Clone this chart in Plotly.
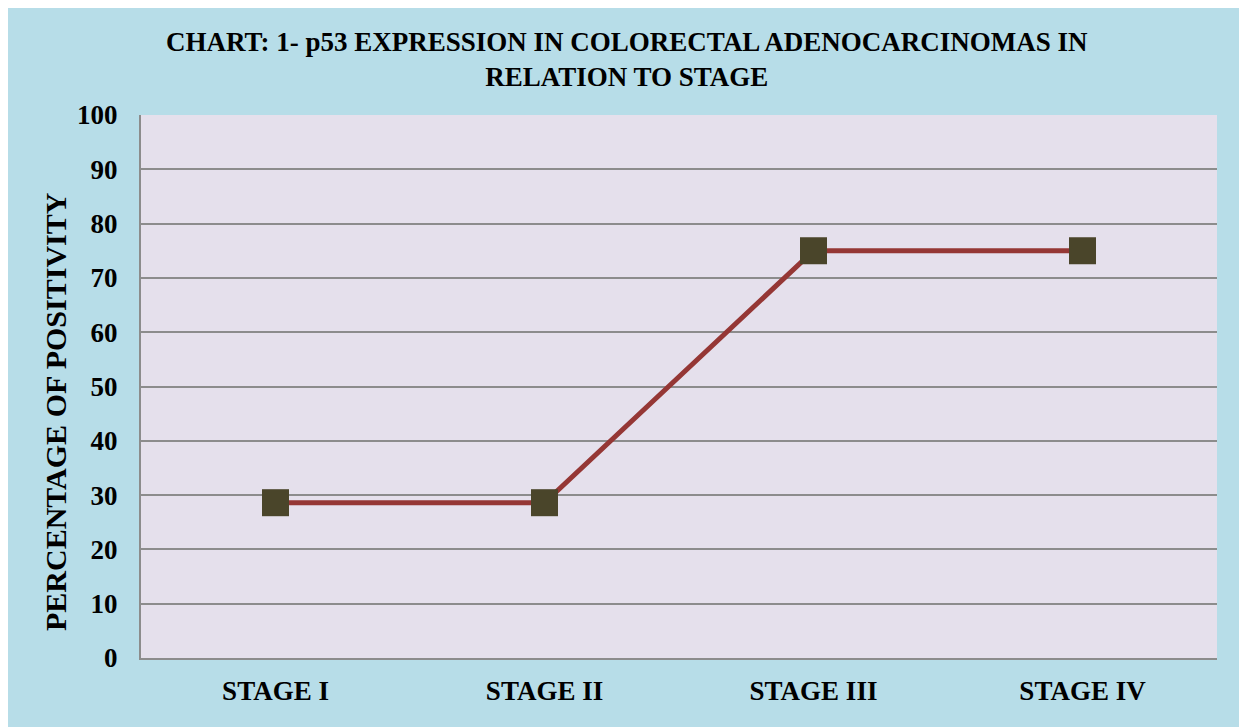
import plotly.graph_objects as go

categories = ["STAGE I", "STAGE II", "STAGE III", "STAGE IV"]
positivity = [28.6, 28.6, 75.0, 75.0]
y_ticks = [0, 10, 20, 30, 40, 50, 60, 70, 80, 90, 100]

# page offset (body margin) of the rendered html
OFF = 8
W, H = 1247 - OFF, 727 - OFF
L, R, T, B = 141, 1217, 115, 658
PW, PH = R - L, B - T

def px(x):
    return (x - L) / PW

def py(y):
    return (B - y) / PH

FONT = "Liberation Serif, Times New Roman, serif"
BG = "#b7dde8"
PLOT_BG = "#e5e0ec"
GRID = "#8c8c8c"

fig = go.Figure()
fig.add_trace(go.Scatter(
    x=categories, y=positivity, mode="lines+markers",
    line=dict(color="#953735", width=5),
    marker=dict(symbol="square", size=27, color="#4a452a", line=dict(width=0)),
    showlegend=False, cliponaxis=False,
))

shapes = [
    dict(type="rect", xref="paper", yref="paper", x0=px(6), x1=px(1260), y0=py(7), y1=py(740),
         fillcolor=BG, line=dict(width=0), layer="below"),
    dict(type="line", xref="paper", yref="paper", x0=px(6), x1=px(1260), y0=py(7), y1=py(7),
         line=dict(color="#8c8c8c", width=2), layer="below"),
    dict(type="line", xref="paper", yref="paper", x0=px(6), x1=px(6), y0=py(7), y1=py(740),
         line=dict(color="#8c8c8c", width=2), layer="below"),
    dict(type="rect", xref="paper", yref="paper", x0=0, x1=1, y0=0, y1=1,
         fillcolor=PLOT_BG, line=dict(width=0), layer="below"),
]

annotations = [
    dict(text="<b>CHART: 1- p53 EXPRESSION IN COLORECTAL ADENOCARCINOMAS IN<br>RELATION TO STAGE</b>",
         xref="paper", yref="paper", x=px(627), y=py(59), xanchor="center", yanchor="middle",
         showarrow=False, font=dict(family=FONT, size=27, color="black")),
    dict(text="<b>PERCENTAGE OF POSITIVITY</b>", textangle=-90,
         xref="paper", yref="paper", x=px(55), y=py(412), xanchor="center", yanchor="middle",
         showarrow=False, font=dict(family=FONT, size=30, color="black")),
]

fig.update_layout(
    width=W, height=H,
    margin=dict(l=L - OFF, r=W + OFF - R, t=T - OFF, b=H + OFF - B, pad=0),
    paper_bgcolor="white", plot_bgcolor="rgba(0,0,0,0)",
    shapes=shapes, annotations=annotations,
    font=dict(family=FONT, color="black"),
)
fig.update_xaxes(
    type="category", range=[-0.5, 3.5], showgrid=False,
    showline=True, linecolor=GRID, linewidth=2, ticks="",
    tickfont=dict(family=FONT, size=27, color="black", weight="bold"),
    ticklabelstandoff=8, zeroline=False,
)
fig.update_yaxes(
    range=[0, 100], tickvals=y_ticks, ticktext=[str(v) for v in y_ticks],
    showgrid=True, gridcolor=GRID, gridwidth=1.5,
    showline=True, linecolor=GRID, linewidth=2, ticks="", zeroline=False,
    tickfont=dict(family=FONT, size=27, color="black", weight="bold"),
    ticklabelstandoff=16,
)

fig.write_html("out.html")
